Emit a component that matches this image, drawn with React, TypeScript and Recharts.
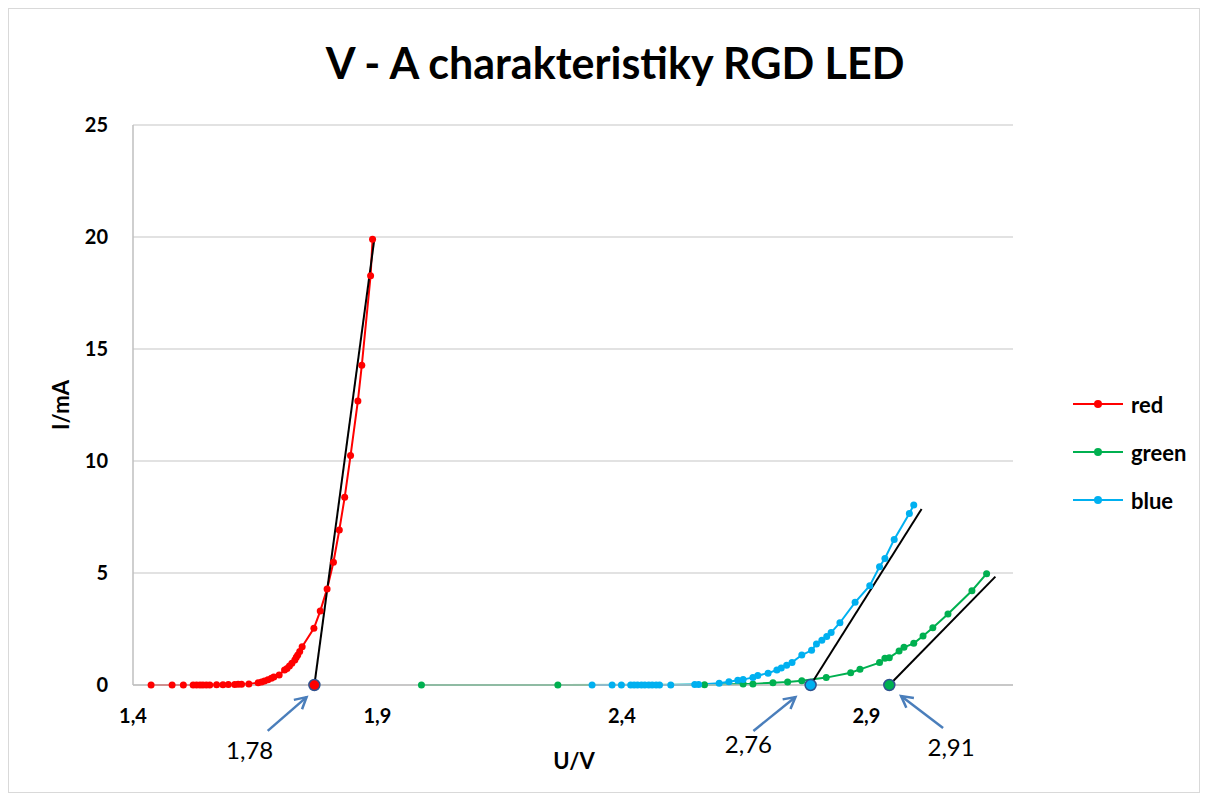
import {
  LineChart,
  Line,
  XAxis,
  YAxis,
  CartesianGrid,
  ReferenceLine,
} from 'recharts';

// U in volts, I in mA
const redU = [1.437, 1.48, 1.503, 1.523, 1.53, 1.537, 1.543, 1.55, 1.557, 1.571, 1.584, 1.595, 1.608, 1.615, 1.622, 1.637, 1.656, 1.663, 1.669, 1.676, 1.683, 1.688, 1.699, 1.71, 1.715, 1.72, 1.725, 1.731, 1.734, 1.737, 1.741, 1.746, 1.77, 1.783, 1.797, 1.81, 1.822, 1.833, 1.845, 1.86, 1.868, 1.886, 1.89];
const redI = [0, 0, 0, 0, 0, 0, 0, 0, 0, 0.01, 0.01, 0.02, 0.02, 0.03, 0.03, 0.05, 0.1, 0.13, 0.18, 0.23, 0.3, 0.36, 0.45, 0.67, 0.74, 0.85, 0.97, 1.12, 1.24, 1.34, 1.49, 1.71, 2.53, 3.3, 4.29, 5.48, 6.92, 8.38, 10.24, 12.68, 14.27, 18.27, 19.9];

const greenU = [1.99, 2.269, 2.569, 2.648, 2.668, 2.709, 2.739, 2.768, 2.818, 2.868, 2.887, 2.927, 2.938, 2.947, 2.967, 2.977, 2.997, 3.016, 3.036, 3.067, 3.116, 3.146];
const greenI = [0, 0, 0.01, 0.04, 0.05, 0.1, 0.13, 0.19, 0.33, 0.55, 0.7, 1.0, 1.19, 1.22, 1.52, 1.68, 1.86, 2.19, 2.56, 3.17, 4.21, 4.97];

const blueU = [2.339, 2.38, 2.399, 2.418, 2.425, 2.432, 2.44, 2.447, 2.455, 2.462, 2.47, 2.477, 2.5, 2.549, 2.557, 2.599, 2.619, 2.637, 2.648, 2.668, 2.678, 2.699, 2.717, 2.726, 2.737, 2.748, 2.768, 2.788, 2.798, 2.809, 2.819, 2.828, 2.846, 2.877, 2.907, 2.927, 2.938, 2.957, 2.988, 2.997];
const blueI = [0, 0, 0, 0, 0, 0, 0, 0, 0, 0, 0, 0, 0, 0.02, 0.02, 0.08, 0.15, 0.21, 0.24, 0.34, 0.42, 0.53, 0.67, 0.76, 0.88, 1.01, 1.34, 1.55, 1.83, 2.0, 2.16, 2.34, 2.78, 3.69, 4.43, 5.28, 5.65, 6.5, 7.66, 8.04];

// tangent lines: first point is the intercept on the U axis
const redTangentU = [1.771, 1.894];
const redTangentI = [0, 19.96];
const greenTangentU = [2.947, 3.164];
const greenTangentI = [0, 4.84];
const blueTangentU = [2.786, 3.013];
const blueTangentI = [0, 7.86];

const xTicks = [1.4, 1.9, 2.4, 2.9];
const yTicks = [0, 5, 10, 15, 20, 25];

// arrow annotations (tail -> head) with their text
const arrowLabels = ['1,78', '2,76', '2,91'];
const arrowTailU = [1.6755, 2.669, 3.057];
const arrowTailI = [-2.05, -2.05, -1.92];
const arrowHeadU = [1.755, 2.755, 2.971];
const arrowHeadI = [-0.54, -0.54, -0.49];
const arrowTextDx = [-18, -5, 8];
const arrowTextDy = [22, 16, 22];

const RED = '#FF0000';
const GREEN = '#00B050';
const BLUE = '#00B0F0';
const ARROW = '#4A7EBB';
const FONT = 'Lato, "Open Sans", sans-serif';

const zip = (u: number[], i: number[]) => u.map((v, k) => ({ u: v, i: i[k] }));

const series = [
  { name: 'red', color: RED, data: zip(redU, redI) },
  { name: 'green', color: GREEN, data: zip(greenU, greenI) },
  { name: 'blue', color: BLUE, data: zip(blueU, blueI) },
];

const tangents = [
  { color: RED, data: zip(redTangentU, redTangentI) },
  { color: GREEN, data: zip(greenTangentU, greenTangentI) },
  { color: BLUE, data: zip(blueTangentU, blueTangentI) },
];

const fmt = (v: number) => String(v).replace('.', ',');

function InterceptDot(props: any, color: string) {
  const { cx, cy, index } = props;
  if (index !== 0) return <g key={`d${index}`} />;
  return <circle key={`d${index}`} cx={cx} cy={cy} r={5.5} fill={color} stroke="#2F528F" strokeWidth={1.5} />;
}

function Arrow(props: any, k: number) {
  const { x1, y1, x2, y2 } = props;
  if (x1 == null) return <g />;
  const ang = Math.atan2(y2 - y1, x2 - x1);
  const len = 13;
  const spread = 0.5;
  const ax = x2 - len * Math.cos(ang - spread);
  const ay = y2 - len * Math.sin(ang - spread);
  const bx = x2 - len * Math.cos(ang + spread);
  const by = y2 - len * Math.sin(ang + spread);
  return (
    <g>
      <line x1={x1} y1={y1} x2={x2} y2={y2} stroke={ARROW} strokeWidth={2.5} />
      <polyline points={`${ax},${ay} ${x2},${y2} ${bx},${by}`} fill="none" stroke={ARROW} strokeWidth={2.5} />
      <text
        x={x1 + arrowTextDx[k]}
        y={y1 + arrowTextDy[k]}
        textAnchor="middle"
        dominantBaseline="middle"
        fontFamily={FONT}
        fontSize={24}
        fill="#000"
      >
        {arrowLabels[k]}
      </text>
    </g>
  );
}

function LegendBox() {
  return (
    <div style={{ position: 'absolute', left: 1062, top: 371, fontWeight: 700, fontSize: 22 }}>
      {series.map((s) => (
        <div key={s.name} style={{ display: 'flex', alignItems: 'center', height: 48 }}>
          <svg width={56} height={12}>
            <line x1={2} y1={6} x2={52} y2={6} stroke={s.color} strokeWidth={2} />
            <circle cx={27} cy={6} r={4} fill={s.color} />
          </svg>
          <span style={{ marginLeft: 4 }}>{s.name}</span>
        </div>
      ))}
    </div>
  );
}

export default function App() {
  return (
    <div
      style={{
        position: 'relative',
        width: 1190,
        height: 783,
        border: '1px solid #D9D9D9',
        background: '#fff',
        fontFamily: FONT,
      }}
    >
      <div
        style={{
          position: 'absolute',
          left: 0,
          width: 1212,
          top: 28,
          textAlign: 'center',
          fontSize: 43,
          fontWeight: 700,
        }}
      >
        V - A charakteristiky RGD LED
      </div>
      <div
        style={{
          position: 'absolute',
          left: 51,
          top: 396,
          transform: 'translate(-50%, -50%) rotate(-90deg)',
          fontSize: 22,
          fontWeight: 700,
          whiteSpace: 'nowrap',
        }}
      >
        I/mA
      </div>
      <div
        style={{
          position: 'absolute',
          left: 565,
          top: 751,
          transform: 'translate(-50%, -50%)',
          fontSize: 22,
          fontWeight: 700,
        }}
      >
        U/V
      </div>
      <LegendBox />
      <LineChart
        width={1190}
        height={783}
        margin={{ top: 116, right: 186, left: 64, bottom: 77 }}
        style={{ position: 'absolute', left: 0, top: 0 }}
      >
        <CartesianGrid stroke="#D9D9D9" strokeWidth={1.5} vertical={false} />
        <XAxis
          type="number"
          dataKey="u"
          domain={[1.4, 3.2]}
          ticks={xTicks}
          tickFormatter={fmt}
          axisLine={{ stroke: '#BFBFBF', strokeWidth: 1.5 }}
          tickLine={false}
          tickMargin={18}
          height={30}
          tick={{ fill: '#000', fontSize: 20, fontWeight: 700, fontFamily: FONT }}
        />
        <YAxis
          type="number"
          domain={[0, 25]}
          ticks={yTicks}
          axisLine={{ stroke: '#BFBFBF', strokeWidth: 1.5 }}
          tickLine={false}
          tickMargin={19}
          width={60}
          tick={{ fill: '#000', fontSize: 20, fontWeight: 700, fontFamily: FONT }}
        />
        {series.map((s) => (
          <Line
            key={s.name}
            data={s.data}
            dataKey="i"
            name={s.name}
            stroke={s.color}
            strokeWidth={2}
            dot={{ r: 3.5, fill: s.color, stroke: s.color, strokeWidth: 0 }}
            activeDot={false}
            isAnimationActive={false}
          />
        ))}
        {tangents.map((t, k) => (
          <Line
            key={`t${k}`}
            data={t.data}
            dataKey="i"
            stroke="#000"
            strokeWidth={2}
            dot={(p: any) => InterceptDot(p, t.color)}
            activeDot={false}
            legendType="none"
            isAnimationActive={false}
          />
        ))}
        {arrowLabels.map((lab, k) => (
          <ReferenceLine
            key={lab}
            segment={[
              { x: arrowTailU[k], y: arrowTailI[k] },
              { x: arrowHeadU[k], y: arrowHeadI[k] },
            ]}
            ifOverflow="visible"
            shape={(p: any) => Arrow(p, k)}
          />
        ))}
      </LineChart>
    </div>
  );
}
